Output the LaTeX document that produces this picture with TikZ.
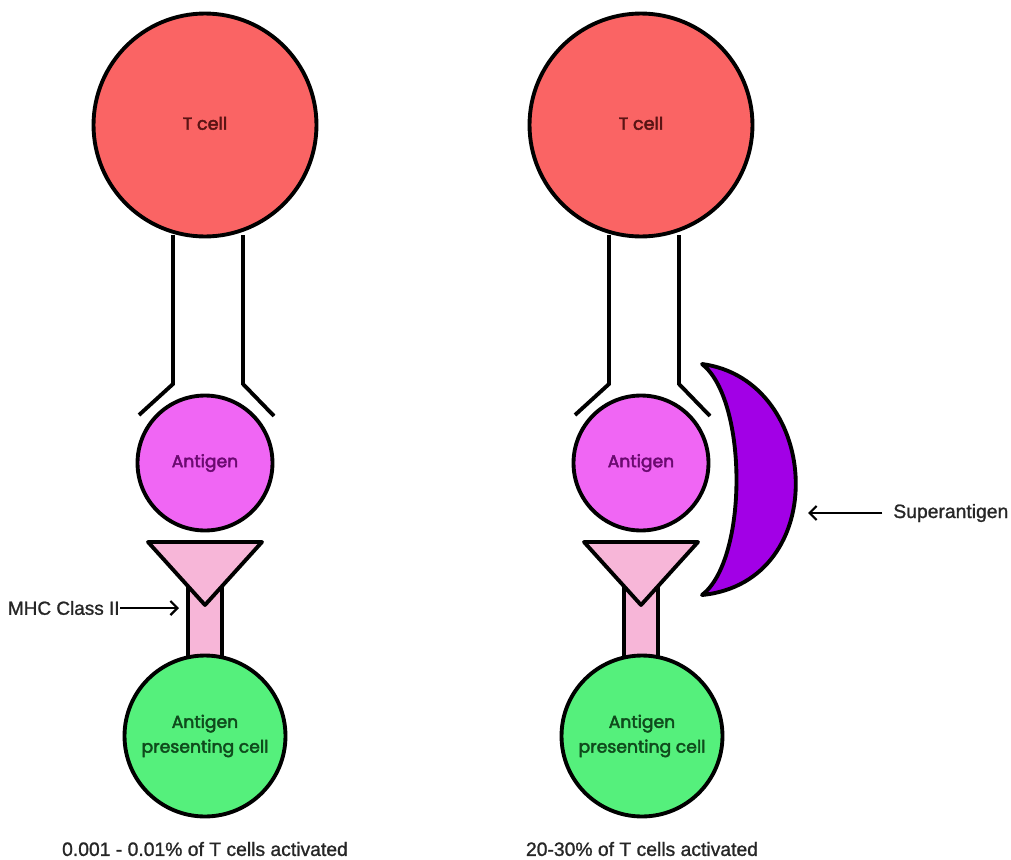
\documentclass[tikz,border=0pt]{standalone}
\usepackage{fontspec}
\setmainfont{Poppins}
\newfontfamily\labelfont[FakeBold=2.6]{Poppins}
\newfontfamily\capfont[FakeBold=1.2]{Liberation Sans}
\usetikzlibrary{arrows.meta}
\definecolor{tcellred}{HTML}{FA6464}
\definecolor{antimag}{HTML}{F066F4}
\definecolor{mhcpink}{HTML}{F7B6D8}
\definecolor{apcgreen}{HTML}{55F07C}
\definecolor{superviolet}{HTML}{A200E6}
\definecolor{tcelltext}{HTML}{5A1414}
\definecolor{antitext}{HTML}{6A0A70}
\definecolor{apctext}{HTML}{0F4A1C}
\tikzset{
  outl/.style={draw=black, line width=2.2pt, line join=round},
  tcell/.style={circle, outl, fill=tcellred, minimum size=4.46cm, inner sep=0pt,
     font=\labelfont\fontsize{10}{12}\selectfont, text=tcelltext},
  antigen/.style={circle, outl, fill=antimag, minimum size=2.70cm, inner sep=0pt,
     font=\labelfont\fontsize{9.8}{12}\selectfont, text=antitext},
  apc/.style={circle, outl, fill=apcgreen, minimum size=3.22cm, inner sep=0pt,
     font=\labelfont\fontsize{9.8}{13}\selectfont, text=apctext, align=center},
  receptor/.style={draw=black, line width=2.2pt, line join=miter},
  caption/.style={font=\capfont\fontsize{11}{13}\selectfont, text=black!85},
  pointer/.style={draw=black, line width=1.3pt, -{Straight Barb[length=4pt,width=8pt]}},
}
\begin{document}
\begin{tikzpicture}[x=0.02cm, y=-0.02cm]
\useasboundingbox (0,0) rectangle (1011,859);

% ---------- left column ----------
\begin{scope}
\draw[receptor] (173,235) -- (173,384) -- (139,415);
\draw[receptor] (243,235) -- (243,384) -- (274,416);
\node[tcell] (tcL) at (205,125) {\raisebox{2pt}{T cell}};
\node[antigen] (agL) at (205,463) {Antigen};
\filldraw[outl, fill=mhcpink] (188,585) rectangle (222,665);
\filldraw[outl, fill=mhcpink] (148,542) -- (262,542) -- (205,605) -- cycle;
\node[apc] (apcL) at (205,736) {\raisebox{-4pt}{\shortstack{Antigen\\[1pt]presenting cell}}};
\node[caption] (capL) at (205,849) {0.001 - 0.01\% of T cells activated};
\node[caption, font=\capfont\fontsize{10.8}{12}\selectfont, anchor=east, inner sep=0pt] (mhc) at (120,608) {MHC Class II};
\coordinate (mhctip) at (179,608);
\draw[pointer] (mhc.east) -- (mhctip);
\end{scope}

% ---------- right column ----------
\begin{scope}[xshift=436*0.02cm]
\draw[receptor] (173,235) -- (173,384) -- (139,415);
\draw[receptor] (243,235) -- (243,384) -- (274,416);
\node[tcell] (tcR) at (205,125) {\raisebox{2pt}{T cell}};
\node[antigen] (agR) at (205,463) {Antigen};
\filldraw[outl, fill=mhcpink] (188,585) rectangle (222,665);
\filldraw[outl, fill=mhcpink] (148,542) -- (262,542) -- (205,605) -- cycle;
\node[apc] (apcR) at (206,736) {\raisebox{-4pt}{\shortstack{Antigen\\[1pt]presenting cell}}};
\node[caption] (capR) at (206,849) {20-30\% of T cells activated};
\end{scope}

% superantigen crescent
\filldraw[outl, fill=superviolet] (702,364) .. controls (822,380) and (832,582) .. (702,595)
   .. controls (748,560) and (748,400) .. cycle;
\node[caption, font=\capfont\fontsize{11}{13}\selectfont, anchor=west, inner sep=0pt] (sag) at (893,513) {Superantigen};
\coordinate (sagtip) at (808,513);
\draw[pointer] ([xshift=-6pt]sag.west) -- (sagtip);
\end{tikzpicture}
\end{document}
